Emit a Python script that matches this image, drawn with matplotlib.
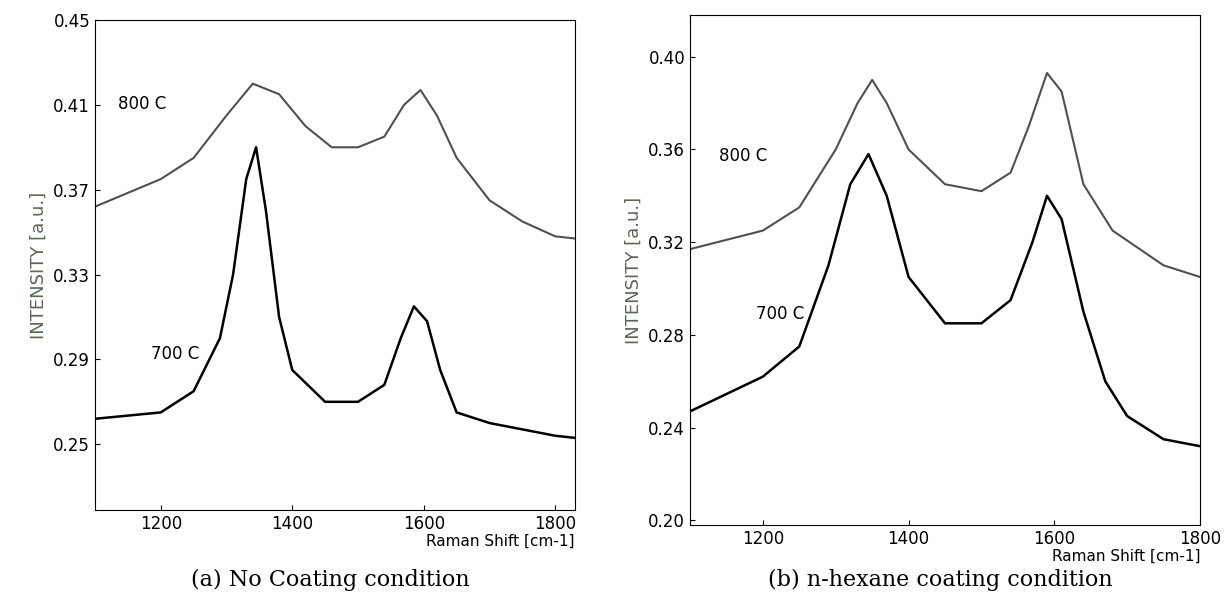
import matplotlib
matplotlib.use("Agg")
import matplotlib.pyplot as plt

a800_x = [1100,1200,1250,1300,1340,1380,1420,1460,1500,1540,1570,1595,1620,1650,1700,1750,1800,1830]
a800_y = [0.362,0.375,0.385,0.405,0.42,0.415,0.40,0.39,0.39,0.395,0.41,0.417,0.405,0.385,0.365,0.355,0.348,0.347]
a700_x = [1100,1200,1250,1290,1310,1330,1345,1360,1380,1400,1450,1500,1540,1565,1585,1605,1625,1650,1700,1800,1830]
a700_y = [0.262,0.265,0.275,0.30,0.33,0.375,0.39,0.36,0.31,0.285,0.27,0.27,0.278,0.30,0.315,0.308,0.285,0.265,0.26,0.254,0.253]
b800_x = [1100,1200,1250,1300,1330,1350,1370,1400,1450,1500,1540,1565,1590,1610,1640,1680,1750,1800]
b800_y = [0.317,0.325,0.335,0.36,0.38,0.39,0.38,0.36,0.345,0.342,0.35,0.37,0.393,0.385,0.345,0.325,0.31,0.305]
b700_x = [1100,1200,1250,1290,1320,1345,1370,1400,1450,1500,1540,1570,1590,1610,1640,1670,1700,1750,1800]
b700_y = [0.247,0.262,0.275,0.31,0.345,0.358,0.34,0.305,0.285,0.285,0.295,0.32,0.34,0.33,0.29,0.26,0.245,0.235,0.232]

fig = plt.figure(figsize=(12.31,5.94), dpi=100)
ax1 = fig.add_axes([95/1231, 1-510/594, 480/1231, 490/594])
ax2 = fig.add_axes([690/1231, 1-525/594, 510/1231, 510/594])

ax1.plot(a800_x, a800_y, color='#505050', lw=1.5)
ax1.plot(a700_x, a700_y, color='black', lw=1.8)
ax1.set_xlim(1100,1830); ax1.set_ylim(0.219,0.45)
ax1.set_xticks([1200,1400,1600,1800]); ax1.set_yticks([0.25,0.29,0.33,0.37,0.41,0.45])
ax1.text(1135,0.408,'800 C',fontsize=12)
ax1.text(1185,0.29,'700 C',fontsize=12)

ax2.plot(b800_x, b800_y, color='#505050', lw=1.5)
ax2.plot(b700_x, b700_y, color='black', lw=1.8)
ax2.set_xlim(1100,1800); ax2.set_ylim(0.198,0.418)
ax2.set_xticks([1200,1400,1600,1800]); ax2.set_yticks([0.20,0.24,0.28,0.32,0.36,0.40])
ax2.text(1140,0.355,'800 C',fontsize=12)
ax2.text(1190,0.287,'700 C',fontsize=12)

for ax in (ax1, ax2):
    ax.set_yticklabels([f'{t:.2f}' for t in ax.get_yticks()])
    ax.tick_params(labelsize=12, direction='in')
    ax.set_ylabel('INTENSITY [a.u.]', fontsize=13, color='#5a6a50')
    ax.set_xlabel('Raman Shift [cm-1]', fontsize=11, loc='right', labelpad=1)

fig.text(330/1231, 1-580/594, '(a) No Coating condition', ha='center', va='center', fontsize=16, family='DejaVu Serif')
fig.text(940/1231, 1-580/594, '(b) n-hexane coating condition', ha='center', va='center', fontsize=16, family='DejaVu Serif')
fig.savefig('out.png', dpi=100)
